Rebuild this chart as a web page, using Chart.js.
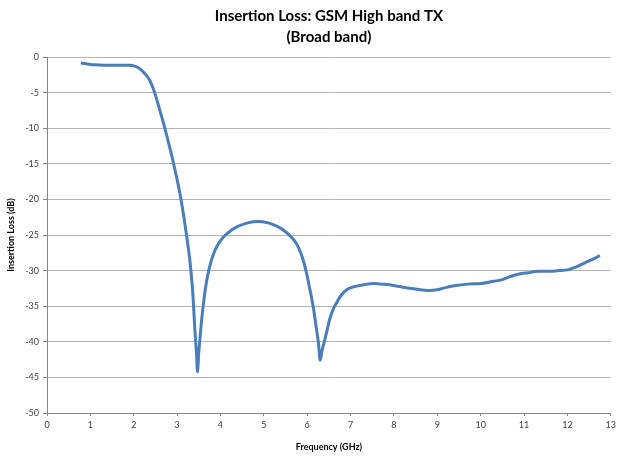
<!DOCTYPE html>
<html>
<head>
<meta charset="utf-8">
<script src="https://cdn.jsdelivr.net/npm/chart.js@4"></script>
<style>
  html, body { margin: 0; padding: 0; background: #fff; }
  #wrap { width: 620px; height: 456px; position: relative; }
</style>
</head>
<body>
<div id="wrap"><canvas id="grafico"></canvas></div>
<script>
// frequency (GHz) and insertion loss (dB)
const freq = [
  0.78, 0.9, 1.0, 1.1, 1.3, 1.5, 1.7, 1.85, 1.93, 2.0, 2.08, 2.15, 2.22, 2.3,
  2.38, 2.46, 2.58, 2.73, 2.92, 3.09, 3.2, 3.3, 3.36, 3.41, 3.45, 3.47, 3.5,
  3.53, 3.56, 3.62, 3.68, 3.77, 3.87, 4.0, 4.17, 4.4, 4.63, 4.86, 5.1, 5.31,
  5.47, 5.62, 5.75, 5.85, 5.93, 6.0, 6.08, 6.15, 6.22, 6.26, 6.3, 6.34, 6.38,
  6.45, 6.52, 6.6, 6.68, 6.78, 6.91, 7.06, 7.3, 7.52, 7.7, 7.9, 8.1, 8.28,
  8.5, 8.81, 9.0, 9.12, 9.42, 9.7, 10.03, 10.3, 10.48, 10.7, 10.94, 11.1,
  11.32, 11.6, 11.8, 12.0, 12.1, 12.23, 12.4, 12.55, 12.75
];
const loss = [
  -0.85, -0.95, -1.05, -1.1, -1.15, -1.15, -1.15, -1.15, -1.17, -1.25, -1.42, -1.7, -2.1, -2.65,
  -3.4, -4.6, -7.0, -10.3, -15.0, -20.0, -24.3, -28.9, -33.0, -38.3, -42.0, -44.2, -41.5,
  -39.3, -37.3, -34.0, -31.5, -29.0, -27.2, -25.8, -24.7, -23.8, -23.3, -23.1, -23.3, -23.8,
  -24.4, -25.2, -26.2, -27.5, -29.0, -30.8, -33.2, -35.5, -38.5, -40.2, -42.6, -41.3, -40.3,
  -38.6, -36.8, -35.4, -34.5, -33.5, -32.7, -32.3, -32.0, -31.8, -31.9, -32.0, -32.2, -32.4,
  -32.6, -32.8, -32.7, -32.5, -32.1, -31.9, -31.8, -31.5, -31.3, -30.8, -30.4, -30.3,
  -30.1, -30.1, -30.0, -29.9, -29.7, -29.4, -28.9, -28.5, -27.9
];
const tituloLinhas = ["Insertion Loss: GSM High band TX", "(Broad band)"];
const tituloX = "Frequency (GHz)";
const tituloY = "Insertion Loss (dB)";

const FONTE = "Lato, 'Open Sans', sans-serif";

// titulo centrado na area do grafico
const tituloPlugin = {
  id: "tituloArea",
  afterDraw(chart) {
    const { ctx, chartArea } = chart;
    const cx = (chartArea.left + chartArea.right) / 2;
    ctx.save();
    ctx.fillStyle = "#000";
    ctx.font = "bold 15px " + FONTE;
    ctx.textAlign = "center";
    ctx.textBaseline = "middle";
    ctx.fillText(tituloLinhas[0], cx, 16);
    ctx.fillText(tituloLinhas[1], cx, 37);
    ctx.restore();
  }
};

const pontos = freq.map((f, i) => ({ x: f, y: loss[i] }));

new Chart(document.getElementById("grafico"), {
  type: "line",
  data: {
    datasets: [{
      data: pontos,
      borderColor: "#4a7ebb",
      borderWidth: 3,
      pointRadius: 0,
      cubicInterpolationMode: "monotone",
      fill: false
    }]
  },
  options: {
    responsive: true,
    maintainAspectRatio: false,
    animation: false,
    layout: { padding: { top: 57, right: 3, left: 0, bottom: 0 } },
    plugins: { legend: { display: false }, tooltip: { enabled: false } },
    scales: {
      x: {
        type: "linear",
        min: 0,
        max: 13,
        afterFit(s) { s.height = 43; },
        ticks: { stepSize: 1, color: "#404040", font: { family: FONTE, size: 9 }, padding: 4 },
        grid: { drawOnChartArea: false, drawTicks: true, tickLength: 3, color: "#868686" },
        border: { color: "#868686" },
        title: { display: true, text: tituloX, color: "#000", font: { family: FONTE, size: 9, weight: "bold" }, padding: { top: 5 } }
      },
      y: {
        min: -50,
        max: 0,
        afterFit(s) { s.width = 47; },
        ticks: { stepSize: 5, color: "#404040", font: { family: FONTE, size: 9 }, padding: 4 },
        grid: { color: "#b3b3b3", tickLength: 4, tickColor: "#868686" },
        border: { color: "#868686" },
        title: { display: true, text: tituloY, color: "#000", font: { family: FONTE, size: 9, weight: "bold" }, padding: { top: 6, bottom: 0 } }
      }
    }
  },
  plugins: [tituloPlugin]
});
</script>
</body>
</html>
